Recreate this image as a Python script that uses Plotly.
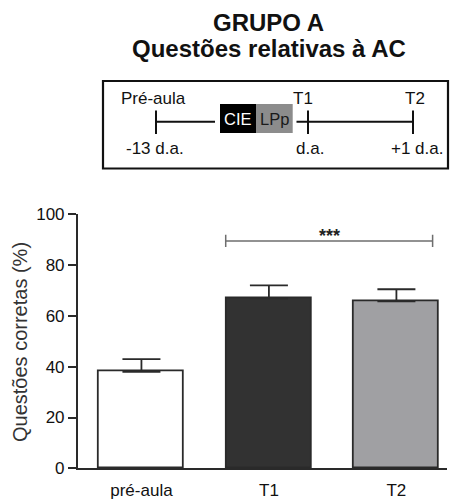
import plotly.graph_objects as go

# Bar chart data: percentage of correct answers per assessment moment
categories = ["pré-aula", "T1", "T2"]
mean_correct = [38.0, 66.8, 65.7]
sem_correct = [5.0, 5.2, 4.8]
bar_fills = ["#ffffff", "#323232", "#a0a0a3"]
y_ticks = [0, 20, 40, 60, 80, 100]
significance = "***"

# Timeline inset labels
timeline_top = ["Pré-aula", "T1", "T2"]
timeline_bottom = ["-13 d.a.", "d.a.", "+1 d.a."]
phase_labels = ["CIE", "LPp"]

W, H = 452, 500
FONT = "Liberation Sans, Arial, Helvetica, sans-serif"
INK = "#2a2a2a"


def px(x):
    return x / W


def py(y):
    return 1 - y / H


def label(x, y, text, size, color, xref="paper", yref="paper", angle=0):
    return dict(x=x, y=y, xref=xref, yref=yref, text=text, showarrow=False,
                xanchor="center", yanchor="middle", textangle=angle,
                font=dict(family=FONT, size=size, color=color))


fig = go.Figure()
fig.add_trace(go.Bar(
    x=categories,
    y=mean_correct,
    width=0.667,
    marker=dict(color=bar_fills, line=dict(color=INK, width=1.8)),
    error_y=dict(type="data", symmetric=False, array=sem_correct,
                 arrayminus=[0] * len(sem_correct),
                 color=INK, thickness=1.8, width=19),
    showlegend=False,
))

shapes = []
annotations = []

# significance bracket between T1 and T2
bx0, bx1, by, tick = 0.661, 2.284, 89.5, 2.4
line_style = dict(color="#6e6e6e", width=1.5)
shapes.append(dict(type="line", xref="x", yref="y", x0=bx0, x1=bx1, y0=by, y1=by, line=line_style))
for bx in (bx0, bx1):
    shapes.append(dict(type="line", xref="x", yref="y", x0=bx, x1=bx, y0=by - tick, y1=by + tick,
                       line=line_style))
annotations.append(label((bx0 + bx1) / 2, by + 2.0, "<b>" + significance + "</b>", 18, "#222",
                         xref="x", yref="y"))

# titles
annotations.append(label(px(268.5), py(22.5), "<b>GRUPO A</b>", 24, "#111"))
annotations.append(label(px(268.5), py(49), "<b>Questões relativas à AC</b>", 24, "#111"))

# y-axis title
annotations.append(label(px(20), py(342), "Questões corretas (%)", 20, "#333", angle=-90))

# timeline inset
shapes.append(dict(type="rect", xref="paper", yref="paper", x0=px(103), x1=px(448),
                   y0=py(81), y1=py(168.5), line=dict(color="#111", width=2.2)))
tl_y = 121.7
tl_line = dict(color="#111", width=2)
shapes.append(dict(type="line", xref="paper", yref="paper", x0=px(156), x1=px(215),
                   y0=py(tl_y), y1=py(tl_y), line=tl_line))
shapes.append(dict(type="line", xref="paper", yref="paper", x0=px(296.5), x1=px(413),
                   y0=py(tl_y), y1=py(tl_y), line=tl_line))
tick_x = [156, 308, 413]
for tx in tick_x:
    shapes.append(dict(type="line", xref="paper", yref="paper", x0=px(tx), x1=px(tx),
                       y0=py(110.5), y1=py(134), line=tl_line))
# phase boxes
phase_boxes = [(220, 256, "#000000", "#ffffff"), (256, 292.7, "#8c8c8c", "#1a1a1a")]
for (x0, x1, fill, txt_col), text in zip(phase_boxes, phase_labels):
    shapes.append(dict(type="rect", xref="paper", yref="paper", x0=px(x0), x1=px(x1),
                       y0=py(104), y1=py(133), fillcolor=fill, line=dict(width=0)))
    annotations.append(label(px((x0 + x1) / 2), py(118.5), text, 16.5, txt_col))
top_x = [153, 303, 415]
bottom_x = [155, 310, 417]
for x, text in zip(top_x, timeline_top):
    annotations.append(label(px(x), py(99), text, 17, "#111"))
for x, text in zip(bottom_x, timeline_bottom):
    annotations.append(label(px(x), py(148.5), text, 17, "#111"))

fig.update_layout(
    template="none",
    width=W, height=H,
    margin=dict(l=0, r=0, t=0, b=0),
    paper_bgcolor="white", plot_bgcolor="white",
    font=dict(family=FONT, size=17, color=INK),
    shapes=shapes,
    annotations=annotations,
    xaxis=dict(domain=[px(77.7), px(447.4)], range=[-0.5, 2.4], showgrid=False,
               showline=True, linecolor=INK, linewidth=1.5, ticks="", zeroline=False,
               ticklabelstandoff=6,
               tickfont=dict(family=FONT, size=17, color="#111"), automargin=False),
    yaxis=dict(domain=[31.7 / H, 285.7 / H], range=[0, 100], tickvals=y_ticks,
               showgrid=False, showline=True, linecolor=INK, linewidth=1.5,
               ticks="outside", ticklen=8, tickwidth=1.5, tickcolor=INK, zeroline=False,
               tickfont=dict(family=FONT, size=17, color="#111"), automargin=False),
    bargap=0,
)

fig.write_html("out.html")
